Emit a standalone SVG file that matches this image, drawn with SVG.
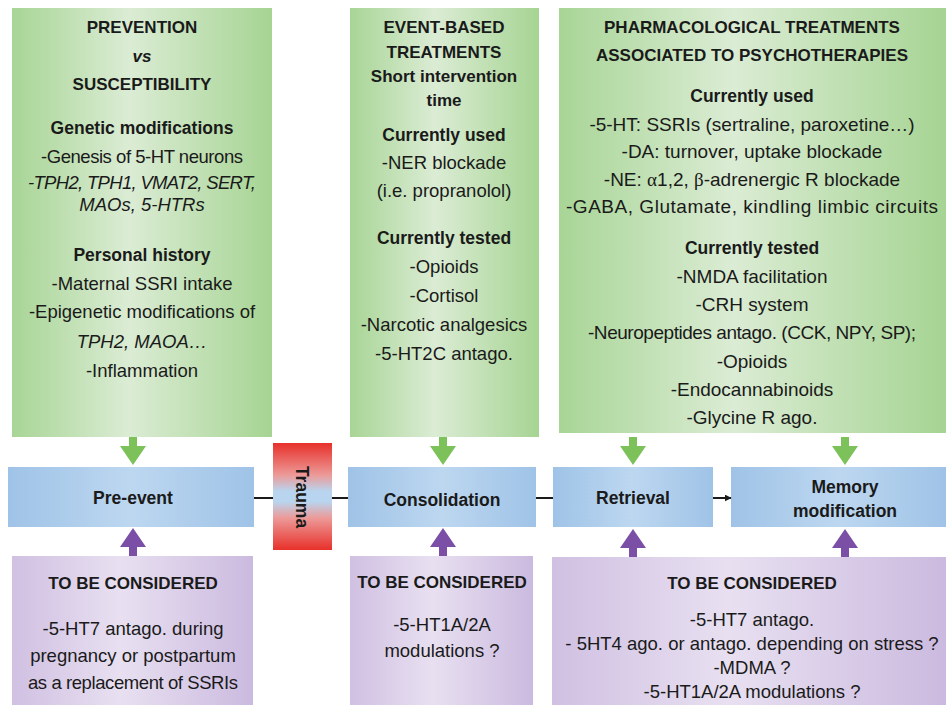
<svg xmlns="http://www.w3.org/2000/svg" width="950" height="705" viewBox="0 0 950 705">
<defs>
<linearGradient id="gGreen" x1="0" y1="0" x2="1" y2="0">
<stop offset="0" stop-color="#a8d596"/><stop offset="0.45" stop-color="#dbecd4"/><stop offset="1" stop-color="#a6d493"/>
</linearGradient>
<linearGradient id="gBlue" x1="0" y1="0" x2="1" y2="0">
<stop offset="0" stop-color="#9fc3e7"/><stop offset="0.5" stop-color="#bdd7f0"/><stop offset="1" stop-color="#9fc3e7"/>
</linearGradient>
<linearGradient id="gPurple" x1="0" y1="0" x2="1" y2="0">
<stop offset="0" stop-color="#d0c0e2"/><stop offset="0.45" stop-color="#e8e0f1"/><stop offset="1" stop-color="#cbbadf"/>
</linearGradient>
<linearGradient id="gTrauma" x1="0" y1="0" x2="0" y2="1">
<stop offset="0" stop-color="#e8302a"/><stop offset="0.3" stop-color="#ec9a98"/><stop offset="0.45" stop-color="#b9d4ee"/><stop offset="0.55" stop-color="#b9d4ee"/><stop offset="0.7" stop-color="#ec9a98"/><stop offset="1" stop-color="#e8302a"/>
</linearGradient>
<marker id="ah" viewBox="0 0 10 10" refX="9" refY="5" markerWidth="7" markerHeight="7" orient="auto" markerUnits="userSpaceOnUse">
<path d="M0,0 L10,5 L0,10 z" fill="#1a1a1a"/>
</marker>
<path id="downArrow" d="M-4,0 L4,0 L4,9 L13,9 L0,28 L-13,9 L-4,9 z"/>
<path id="upArrow" d="M-4,0 L4,0 L4,-9 L13,-9 L0,-28 L-13,-9 L-4,-9 z"/>
</defs>
<style>
text{font-family:"Liberation Sans",Arial,sans-serif;fill:#1a1a1a;text-anchor:middle;}
.b{font-size:18.5px;}
.r{font-size:19px;}
.h{font-size:17px;font-weight:bold;}
.s{font-size:17.5px;font-weight:bold;}
.i{font-style:italic;}
.green{fill:url(#gGreen);}
.blue{fill:url(#gBlue);}
.purple{fill:url(#gPurple);}
.ga{fill:#7cc15a;}
.pa{fill:#7b4fa6;}
.conn{stroke:#1a1a1a;stroke-width:2;fill:none;}
</style>
<rect width="950" height="705" fill="#ffffff"/>

<g id="green-prevention">
<rect class="green" x="12" y="8" width="260" height="429"/>
<text class="h" x="142" y="33">PREVENTION</text>
<text class="h i" x="142" y="62">vs</text>
<text class="h" x="142" y="90">SUSCEPTIBILITY</text>
<text class="s" x="142" y="134">Genetic modifications</text>
<text class="b" x="142" y="163" textLength="202">-Genesis of 5-HT neurons</text>
<text class="b i" x="142" y="189" textLength="228">-TPH2, TPH1, VMAT2, SERT,</text>
<text class="b i" x="142" y="211">MAOs, 5-HTRs</text>
<text class="s" x="142" y="261">Personal history</text>
<text class="b" x="142" y="290">-Maternal SSRI intake</text>
<text class="b" x="142" y="318">-Epigenetic modifications of</text>
<text class="b i" x="142" y="348">TPH2, MAOA…</text>
<text class="b" x="142" y="377">-Inflammation</text>
</g>

<g id="green-event">
<rect class="green" x="350" y="8" width="189" height="429"/>
<text class="h" x="444" y="33">EVENT-BASED</text>
<text class="h" x="444" y="58">TREATMENTS</text>
<text class="h" x="444" y="82">Short intervention</text>
<text class="h" x="444" y="106">time</text>
<text class="s" x="444" y="141">Currently used</text>
<text class="b" x="444" y="169">-NER blockade</text>
<text class="b" x="444" y="197">(i.e. propranolol)</text>
<text class="s" x="444" y="244">Currently tested</text>
<text class="b" x="444" y="273">-Opioids</text>
<text class="b" x="444" y="302">-Cortisol</text>
<text class="b" x="444" y="331">-Narcotic analgesics</text>
<text class="b" x="444" y="360">-5-HT2C antago.</text>
</g>

<g id="green-pharma">
<rect class="green" x="559" y="8" width="387" height="425"/>
<text class="h" x="752" y="33">PHARMACOLOGICAL TREATMENTS</text>
<text class="h" x="752" y="61">ASSOCIATED TO PSYCHOTHERAPIES</text>
<text class="s" x="752" y="102">Currently used</text>
<text class="r" x="752" y="131">-5-HT: SSRIs (sertraline, paroxetine…)</text>
<text class="r" x="752" y="158">-DA: turnover, uptake blockade</text>
<text class="r" x="752" y="186">-NE: <tspan font-family="Liberation Serif, serif">α</tspan>1,2, <tspan font-family="Liberation Serif, serif">β</tspan>-adrenergic R blockade</text>
<text class="r" x="752" y="213" textLength="372">-GABA, Glutamate, kindling limbic circuits</text>
<text class="s" x="752" y="254">Currently tested</text>
<text class="r" x="752" y="283">-NMDA facilitation</text>
<text class="r" x="752" y="311">-CRH system</text>
<text class="r" x="752" y="339" textLength="328">-Neuropeptides antago. (CCK, NPY, SP);</text>
<text class="r" x="752" y="368">-Opioids</text>
<text class="r" x="752" y="396">-Endocannabinoids</text>
<text class="r" x="752" y="424">-Glycine R ago.</text>
</g>

<g id="pre-event">
<rect class="blue" x="8" y="467" width="246" height="60"/>
<text class="s" x="133" y="504">Pre-event</text>
</g>
<g id="trauma">
<rect fill="url(#gTrauma)" x="273" y="443" width="59" height="107"/>
<text class="s" transform="translate(302,497) rotate(90)" y="6">Trauma</text>
</g>
<g id="consolidation">
<rect class="blue" x="348" y="467" width="188" height="60"/>
<text class="s" x="442" y="506">Consolidation</text>
</g>
<g id="retrieval">
<rect class="blue" x="553" y="467" width="160" height="60"/>
<text class="s" x="633" y="504">Retrieval</text>
</g>
<g id="memory-modification">
<rect class="blue" x="731" y="467" width="215" height="60"/>
<text class="s" x="845" y="493">Memory</text>
<text class="s" x="845" y="517">modification</text>
</g>

<g id="purple-pre">
<rect class="purple" x="12" y="556" width="241" height="149"/>
<text class="h" x="133" y="589">TO BE CONSIDERED</text>
<text class="b" x="133" y="635">-5-HT7 antago. during</text>
<text class="b" x="133" y="662">pregnancy or postpartum</text>
<text class="b" x="133" y="689" textLength="210">as a replacement of SSRIs</text>
</g>
<g id="purple-consolidation">
<rect class="purple" x="350" y="556" width="183" height="149"/>
<text class="h" x="442" y="588">TO BE CONSIDERED</text>
<text class="b" x="442" y="631">-5-HT1A/2A</text>
<text class="b" x="442" y="657">modulations ?</text>
</g>
<g id="purple-retrieval">
<rect class="purple" x="552" y="557" width="394" height="148"/>
<text class="h" x="752" y="589">TO BE CONSIDERED</text>
<text class="b" x="752" y="626">-5-HT7 antago.</text>
<text class="b" x="752" y="650">- 5HT4 ago. or antago. depending on stress ?</text>
<text class="b" x="752" y="674">-MDMA ?</text>
<text class="b" x="752" y="698">-5-HT1A/2A modulations ?</text>
</g>

<g id="connectors">
<line class="conn" x1="254" y1="498" x2="273" y2="498"/>
<line class="conn" x1="332" y1="498" x2="348" y2="498"/>
<line class="conn" x1="536" y1="498" x2="553" y2="498"/>
<line class="conn" x1="713" y1="498" x2="731" y2="498" marker-end="url(#ah)"/>
<use href="#downArrow" class="ga" x="133" y="437"/>
<use href="#downArrow" class="ga" x="443" y="437"/>
<use href="#downArrow" class="ga" x="633" y="437"/>
<use href="#downArrow" class="ga" x="845" y="437"/>
<use href="#upArrow" class="pa" x="133" y="556"/>
<use href="#upArrow" class="pa" x="443" y="556"/>
<use href="#upArrow" class="pa" x="633" y="557"/>
<use href="#upArrow" class="pa" x="845" y="557"/>
</g>
</svg>
